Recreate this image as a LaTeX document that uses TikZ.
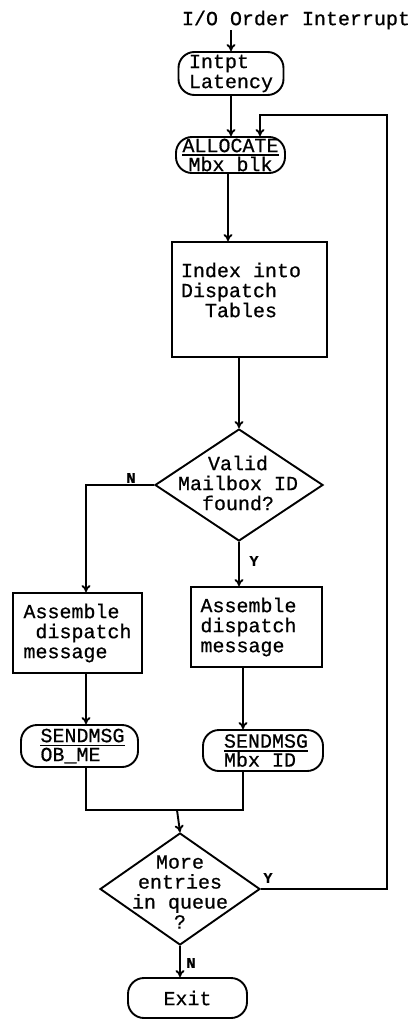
\documentclass[tikz,border=0pt]{standalone}
\usepackage{fontspec}
\setmonofont[FakeBold=0.6]{Liberation Mono}
\usetikzlibrary{shapes.geometric,arrows.meta,calc}
\newcommand\ulx[1]{\setbox0\hbox{#1}\rlap{\rule[-4pt]{\wd0}{1.6pt}}\box0}
\begin{document}
\begin{tikzpicture}[x=1pt,y=-1pt,
  line width=1.9pt,
  txt/.style={font=\ttfamily\fontsize{20}{20}\selectfont, inner sep=0pt},
  txts/.style={font=\ttfamily\fontsize{20}{19}\selectfont, inner sep=0pt},
  lbl/.style={font=\ttfamily\bfseries\fontsize{15}{15}\selectfont, inner sep=0pt},
  stad/.style={draw, rounded corners=16pt, inner sep=0pt},
  boxx/.style={draw, inner sep=0pt},
  dia/.style={draw, diamond, inner sep=0pt},
  arr/.style={-{To[length=7pt,width=9pt]}},
]
\useasboundingbox (0,0) rectangle (414,1019);
\fill[white] (0,0) rectangle (414,1019);

% nodes
\node[txt] (title) at (296,20) {I/O Order Interrupt};

\node[stad, minimum width=105, minimum height=43] (lat) at (231,73.5) {};
\node[txt, align=left] (latt) at (lat.center) {Intpt\\Latency};

\node[stad, minimum width=109, minimum height=36] (alloc) at (230.5,155) {};
\node[txts, align=center] (allt) at (alloc.center) {\ulx{ALLOCATE}\\Mbx blk};

\node[boxx, minimum width=155, minimum height=115] (idx) at (249.5,299.5) {};
\node[txt, align=left] (idxt) at (241,290) {Index into\\Dispatch\\\phantom{xx}Tables};

\node[dia, minimum width=168, minimum height=112] (d1) at (239,485) {};
\node[txt, align=center] (d1t) at (238,483) {Valid\\Mailbox ID\\found?};

\node[boxx, minimum width=129, minimum height=80] (asmL) at (77.5,633) {};
\node[txt, align=left] (asmLt) at (asmL.center) {Assemble\\\phantom{x}dispatch\\message};

\node[boxx, minimum width=131, minimum height=80] (asmR) at (256.5,627) {};
\node[txt, align=left] (asmRt) at ([xshift=-8]asmR.center) {Assemble\\dispatch\\message};

\node[stad, minimum width=117, minimum height=42] (sendL) at (79.5,746) {};
\node[txts, align=left] (sendLt) at ([xshift=3]sendL.center) {\ulx{SENDMSG}\\OB\_ME};

\node[stad, minimum width=120, minimum height=41] (sendR) at (263,750.5) {};
\node[txts, align=left] (sendRt) at ([xshift=3]sendR.center) {\ulx{SENDMSG}\\Mbx ID};

\node[dia, minimum width=160, minimum height=112] (d2) at (180,889) {};
\node[txt, align=center] (d2t) at (180,892) {More\\entries\\in queue\\?};

\node[stad, minimum width=119, minimum height=40] (exit) at (187.5,998) {};
\node[txt] (exitt) at (exit.center) {Exit};

% helper coordinates
\coordinate (cl) at (86,0);
\coordinate (cr) at (243,0);
\coordinate (ca) at (228,0);
\coordinate (j) at (177,810);
\coordinate (loop) at (387,115);
\coordinate (ain) at ($(alloc.north)+(29.5,0)$);

% connectors
\draw[arr] (title.south -| lat.north) -- (lat.north);
\draw[arr] (lat.south) -- (lat.south |- alloc.north);
\draw[arr] (alloc.south -| ca) -- (idx.north -| ca);
\draw[arr] (d1.north |- idx.south) -- (d1.north);
\draw[arr] (d1.west) -| (asmL.north -| cl);
\draw[arr] (d1.south) -- (d1.south |- asmR.north);
\draw[arr] (asmL.south -| cl) -- (sendL.north -| cl);
\draw[arr] (asmR.south -| cr) -- (sendR.north -| cr);
\draw (sendL.south -| cl) -- (cl |- j) -- (cr |- j) -- (sendR.south -| cr);
\draw[arr] (j) -- (d2.north);
\draw[arr] (d2.east) -| (loop) -- (loop -| ain) -- (ain);
\draw[arr] (d2.south) -- (d2.south |- exit.north);

% labels
\node[lbl] (lN1) at (131,478) {N};
\node[lbl] (lY1) at (254,561) {Y};
\node[lbl] (lY2) at (268,878) {Y};
\node[lbl] (lN2) at (191,963) {N};
\end{tikzpicture}
\end{document}
